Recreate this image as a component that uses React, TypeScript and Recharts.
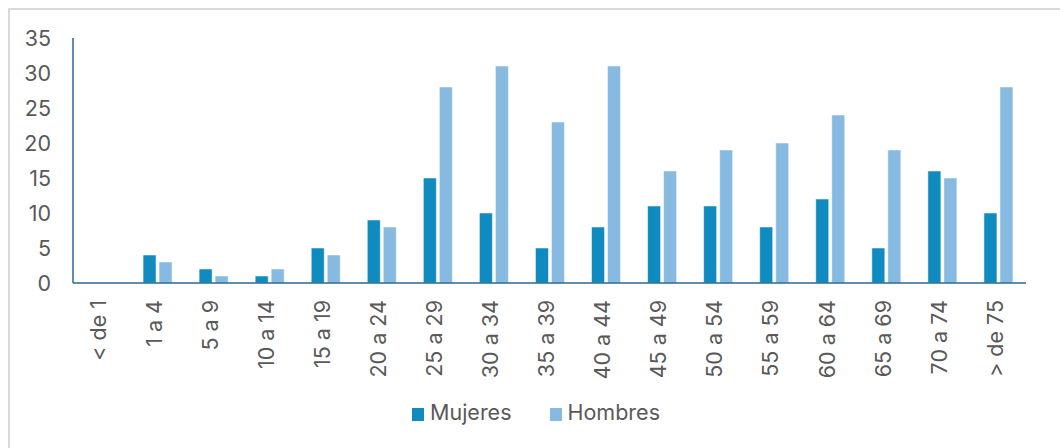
import React from "react";
import { BarChart, Bar, XAxis, YAxis } from "recharts";

const categories = ["< de 1", "1 a 4", "5 a 9", "10 a 14", "15 a 19", "20 a 24", "25 a 29", "30 a 34", "35 a 39", "40 a 44", "45 a 49", "50 a 54", "55 a 59", "60 a 64", "65 a 69", "70 a 74", "> de 75"];
const mujeres = [0, 4, 2, 1, 5, 9, 15, 10, 5, 8, 11, 11, 8, 12, 5, 16, 10];
const hombres = [0, 3, 1, 2, 4, 8, 28, 31, 23, 31, 16, 19, 20, 24, 19, 15, 28];
const yTicks = [0, 5, 10, 15, 20, 25, 30, 35];

const seriesNames = ["Mujeres", "Hombres"];
const colors = ["#0F8BBF", "#86BAE0"];
const FONT = "Inter, 'Liberation Sans', sans-serif";
const TEXT = "#595959";
const AXIS = "#2A6890";

const data = categories.map((c, i) => ({ cat: c, Mujeres: mujeres[i], Hombres: hombres[i] }));

const XTick = (props: any) => {
  const { x, y, payload } = props;
  return (
    <text
      x={x - 3}
      y={y}
      transform={`rotate(-90, ${x - 3}, ${y})`}
      textAnchor="end"
      dy="0.36em"
      fontSize={21.5}
      fontFamily={FONT}
      fill={TEXT}
    >
      {payload.value}
    </text>
  );
};

export default function App() {
  return (
    <div style={{ position: "absolute", left: 0, top: 0, width: 1060, height: 448, background: "#fff", overflow: "hidden" }}>
      <div
        style={{
          position: "absolute",
          left: 8,
          top: 8,
          width: 1200,
          height: 600,
          borderTop: "2px solid #d9d9d9",
          borderLeft: "2px solid #d9d9d9",
        }}
      />
      <div style={{ position: "absolute", left: 0, top: 0 }}>
        <BarChart
          width={1060}
          height={448}
          data={data}
          margin={{ top: 38, right: 34, left: 0, bottom: 0 }}
          barSize={13}
          barGap={3}
        >
          <YAxis
            width={73}
            domain={[0, 35]}
            ticks={yTicks}
            interval={0}
            tickLine={false}
            tickSize={0}
            tickMargin={22}
            axisLine={{ stroke: AXIS, strokeWidth: 1.5 }}
            tick={{ fontSize: 21.5, fontFamily: FONT, fill: TEXT }}
          />
          <XAxis
            dataKey="cat"
            height={165}
            interval={0}
            tickLine={false}
            tickSize={0}
            tickMargin={17}
            axisLine={{ stroke: AXIS, strokeWidth: 1.5 }}
            tick={<XTick />}
          />
          <Bar dataKey="Mujeres" fill={colors[0]} stroke="#ffffff" strokeOpacity={0.5} strokeWidth={1} isAnimationActive={false} />
          <Bar dataKey="Hombres" fill={colors[1]} stroke="#ffffff" strokeOpacity={0.5} strokeWidth={1} isAnimationActive={false} />
        </BarChart>
      </div>
      <div
        style={{
          position: "absolute",
          left: 412,
          top: 399,
          display: "flex",
          alignItems: "center",
          fontFamily: FONT,
          fontSize: 21.5,
          color: TEXT,
        }}
      >
        {seriesNames.map((n, i) => (
          <div key={n} style={{ display: "flex", alignItems: "center", marginRight: i === 0 ? 38 : 0 }}>
            <div style={{ width: 12, height: 13, background: colors[i], marginRight: 6, marginTop: 4 }} />
            <span>{n}</span>
          </div>
        ))}
      </div>
    </div>
  );
}
